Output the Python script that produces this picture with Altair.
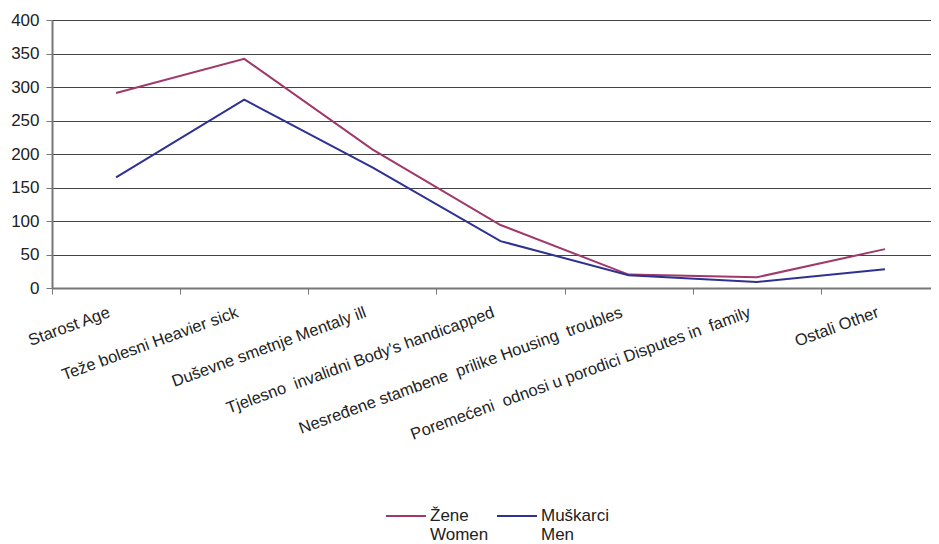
import altair as alt
import pandas as pd

categories = [
    "Starost Age",
    "Teže bolesni Heavier sick",
    "Duševne smetnje Mentaly ill",
    "Tjelesno\u00a0 invalidni Body's handicapped",
    "Nesređene stambene\u00a0 prilike Housing\u00a0 troubles",
    "Poremećeni\u00a0 odnosi u porodici Disputes in\u00a0 family",
    "Ostali Other",
]
women = [291, 342, 207, 94, 20, 16, 58]
men = [165, 281, 180, 70, 19, 9, 28]
series = ["Žene|Women", "Muškarci|Men"]
colors = ["#A0386A", "#2E3192"]
y_ticks = [0, 50, 100, 150, 200, 250, 300, 350, 400]

rows = []
for c, w, m in zip(categories, women, men):
    rows.append({"cat": c, "val": w, "series": series[0]})
    rows.append({"cat": c, "val": m, "series": series[1]})
df = pd.DataFrame(rows)

FONT = "Liberation Sans"

chart = alt.Chart(df).mark_line(strokeWidth=2).encode(
    x=alt.X(
        "cat:N",
        sort=categories,
        bandPosition=0.5,
        scale=alt.Scale(type="band", paddingInner=0, paddingOuter=0),
        axis=alt.Axis(
            title=None,
            labelAngle=-20,
            labelAlign="right",
            labelBaseline="top",
            labelFont=FONT,
            labelFontSize=16.5,
            labelColor="#222222",
            labelPadding=10,
            labelOffset=-10,
            tickBand="extent",
            tickSize=6,
            tickColor="#777777",
            domainColor="#777777",
            domainWidth=2,
            grid=False,
            labelOverlap=False,
            labelLimit=0,
        ),
    ),
    y=alt.Y(
        "val:Q",
        scale=alt.Scale(domain=[0, 400], nice=False),
        axis=alt.Axis(
            title=None,
            values=y_ticks,
            labelFont=FONT,
            labelFontSize=17,
            labelColor="#222222",
            labelPadding=7,
            tickSize=6,
            tickColor="#777777",
            domainColor="#777777",
            domainWidth=2,
            grid=True,
            gridColor="#444444",
            gridWidth=1,
        ),
    ),
    color=alt.Color(
        "series:N",
        sort=series,
        scale=alt.Scale(domain=series, range=colors),
        legend=alt.Legend(
            title=None,
            orient="none",
            legendX=333,
            legendY=475,
            direction="horizontal",
            symbolType="stroke",
            symbolSize=1600,
            symbolStrokeWidth=2,
            labelFont=FONT,
            labelFontSize=17,
            labelColor="#222222",
            labelExpr="split(datum.label, '|')",
            labelBaseline="middle",
            labelOffset=3,
            columnPadding=4,
        ),
    ),
).properties(
    width=897,
    height=268,
    autosize=alt.AutoSizeParams(type="none"),
    padding={"left": 44, "top": 12, "right": -18, "bottom": 256},
).configure_view(strokeWidth=0)

chart.save("out.html", embed_options={"renderer": "svg", "actions": False})
